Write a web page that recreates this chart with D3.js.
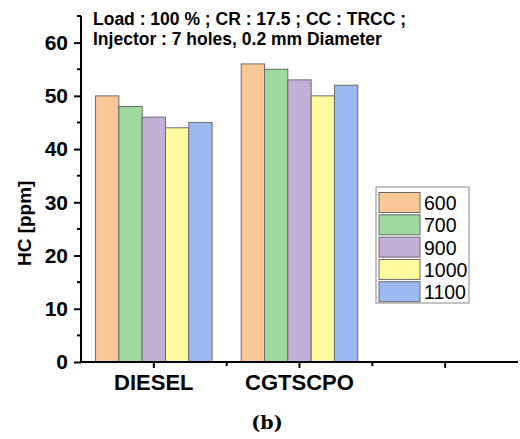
<!DOCTYPE html>
<html>
<head>
<meta charset="utf-8">
<script src="https://cdn.jsdelivr.net/npm/d3@7"></script>
<style>
  html, body { margin: 0; padding: 0; background: #fff; }
  svg { display: block; }
</style>
</head>
<body>
<svg id="chart" width="520" height="439"></svg>
<script>
// HC emissions by fuel and injection pressure
const categories = ["DIESEL", "CGTSCPO", ""];
const seriesNames = ["600", "700", "900", "1000", "1100"];
const diesel = [50, 48, 46, 44, 45];
const cgtscpo = [56, 55, 53, 50, 52];
const seriesColors = ["#FAC896", "#A0D99E", "#C2B1D6", "#FEFC9E", "#9BBAF2"];
const yTicks = [0, 10, 20, 30, 40, 50, 60];
const yMinorTicks = [5, 15, 25, 35, 45, 55, 65];

const values = { "DIESEL": diesel, "CGTSCPO": cgtscpo };
const rows = [];
categories.forEach((c, ci) => {
  if (!values[c]) return;
  values[c].forEach((v, si) => rows.push({ key: ci, cat: c, series: seriesNames[si], value: v, color: seriesColors[si] }));
});

const svg = d3.select("#chart");
const font = "'Liberation Sans', Arial, sans-serif";

const plotLeft = 81, plotRight = 518, plotBottom = 362, plotTop = 16;

const x = d3.scaleBand().domain(categories.map((c, i) => i)).range([plotLeft, plotRight]).padding(0);
const xs = d3.scaleBand().domain(seriesNames).range([x.bandwidth() * 0.1, x.bandwidth() * 0.9]).padding(0);
const y = d3.scaleLinear().domain([0, 65]).range([plotBottom, plotTop]);

// bars
svg.append("g").selectAll("rect").data(rows).join("rect")
  .attr("x", d => x(d.key) + xs(d.series))
  .attr("y", d => y(d.value))
  .attr("width", xs.bandwidth())
  .attr("height", d => y(0) - y(d.value))
  .attr("fill", d => d.color)
  .attr("stroke", "#6b6b6b")
  .attr("stroke-width", 1);

// y axis
const yAxis = svg.append("g").attr("transform", `translate(${plotLeft},0)`)
  .call(d3.axisLeft(y).tickValues(yTicks).tickSize(7).tickPadding(6).tickSizeOuter(0));
yAxis.select(".domain").attr("stroke", "#000").attr("stroke-width", 2).attr("d", `M0,${y(65)}V${plotBottom + 1}`);
yAxis.selectAll(".tick line").attr("stroke", "#000").attr("stroke-width", 2);
yAxis.selectAll(".tick text").attr("font-family", font).attr("font-weight", "bold").attr("font-size", 21).attr("fill", "#000");
svg.append("g").selectAll("line").data(yMinorTicks).join("line")
  .attr("x1", plotLeft - 4).attr("x2", plotLeft).attr("y1", d => y(d)).attr("y2", d => y(d))
  .attr("stroke", "#000").attr("stroke-width", 2);

// x axis
const xAxis = svg.append("g").attr("transform", `translate(0,${plotBottom})`)
  .call(d3.axisBottom(x).tickFormat(i => categories[i]).tickSize(6).tickPadding(6).tickSizeOuter(0));
xAxis.select(".domain").attr("stroke", "#000").attr("stroke-width", 2).attr("d", `M${plotLeft - 1},0H${plotRight}`);
xAxis.selectAll(".tick line").attr("stroke", "#000").attr("stroke-width", 2);
xAxis.selectAll(".tick text").attr("font-family", font).attr("font-weight", "bold").attr("font-size", 22).attr("fill", "#000");
const xMinor = categories.slice(1).map((c, i) => x(i + 1));
svg.append("g").selectAll("line").data(xMinor).join("line")
  .attr("x1", d => d).attr("x2", d => d).attr("y1", plotBottom).attr("y2", plotBottom + 4)
  .attr("stroke", "#000").attr("stroke-width", 2);

// y axis title
svg.append("text")
  .attr("transform", `translate(31,${(y(0) + y(60)) / 2 + 21}) rotate(-90)`)
  .attr("text-anchor", "middle")
  .attr("font-family", font).attr("font-weight", "bold").attr("font-size", 19)
  .text("HC [ppm]");

// conditions note
const note = svg.append("text").attr("font-family", font).attr("font-weight", "bold").attr("font-size", 17.5);
note.append("tspan").attr("x", 93).attr("y", 25).text("Load : 100 % ; CR : 17.5 ; CC : TRCC ;");
note.append("tspan").attr("x", 93).attr("y", 45).text("Injector : 7 holes, 0.2 mm Diameter");

// legend
const lg = svg.append("g").attr("transform", "translate(376,187)");
lg.append("rect").attr("width", 93).attr("height", 116).attr("fill", "#fff").attr("stroke", "#888").attr("stroke-width", 1);
const item = lg.selectAll("g.item").data(seriesNames).join("g")
  .attr("transform", (d, i) => `translate(3,${5.5 + i * 22.3})`);
item.append("rect").attr("width", 41).attr("height", 20)
  .attr("fill", (d, i) => seriesColors[i]).attr("stroke", "#6b6b6b").attr("stroke-width", 1);
item.append("text").attr("x", 45).attr("y", 17.5)
  .attr("font-family", font).attr("font-size", 19.5).text(d => d);

// panel caption
svg.append("text").attr("x", 267).attr("y", 429).attr("text-anchor", "middle")
  .attr("font-family", "'DejaVu Serif', 'Liberation Serif', serif").attr("font-weight", "bold").attr("font-size", 19)
  .text("(b)");
</script>
</body>
</html>
